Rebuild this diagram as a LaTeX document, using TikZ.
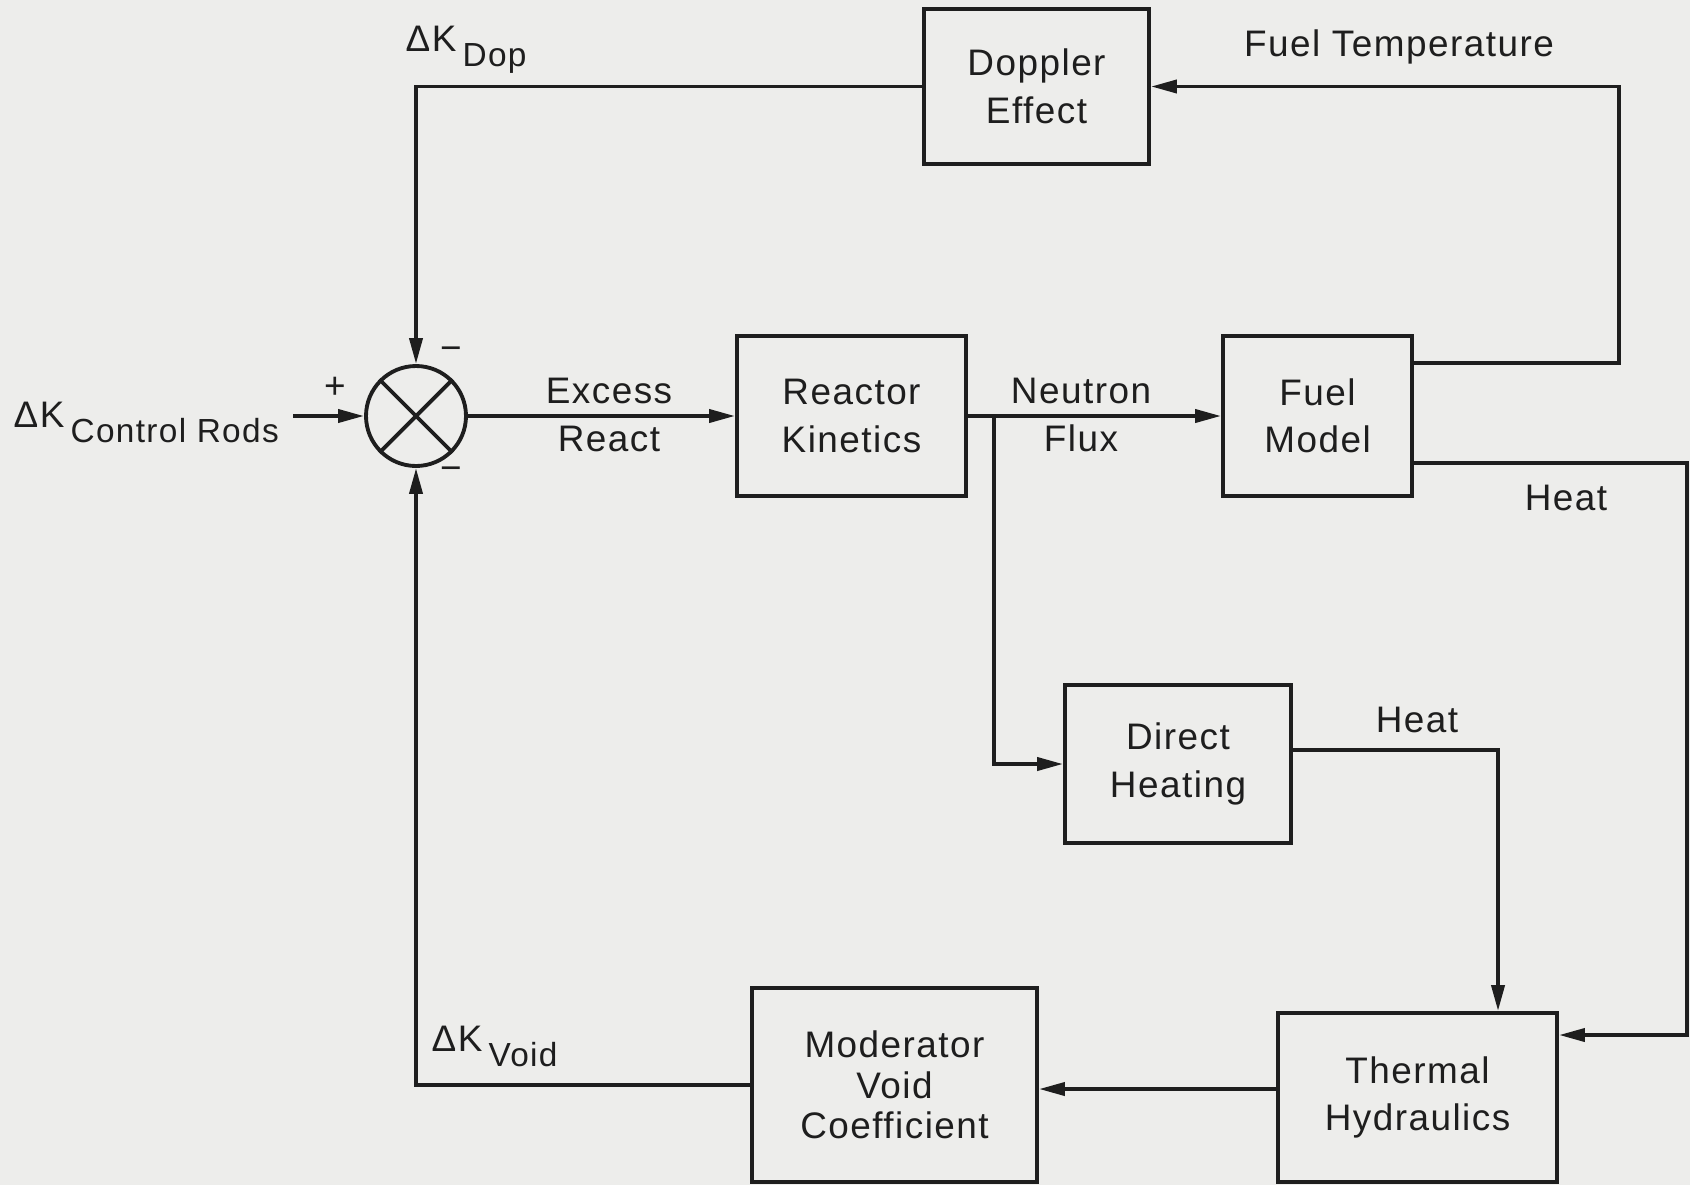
\documentclass[tikz,border=0pt]{standalone}
\usepackage{fontspec}
\setmainfont{Liberation Sans}[LetterSpace=4]
\usetikzlibrary{arrows.meta,positioning}
\definecolor{Ink}{HTML}{1E1E1E}
\definecolor{Paper}{HTML}{EDEDEB}
\newcommand{\dK}[1]{ΔK\,\raisebox{-0.8ex}{\fontsize{9.5}{11}\selectfont #1}}

\begin{document}
\begin{tikzpicture}[every node/.style={font=\fontsize{10.5}{13.5}\selectfont,align=center,text=Ink},
block/.style={draw=Ink,line width=1.1pt,inner sep=0pt},
flow/.style={draw=Ink,line width=1.1pt},
tag/.style={inner sep=0pt},
>={Triangle[length=2.6mm,width=1.3mm]}]
\fill[Paper] (0,0) rectangle (16.9,11.85);
\useasboundingbox (0,0) rectangle (16.9,11.85);
% blocks
\node[block,minimum width=22.5mm,minimum height=15.5mm] (doppler) at (10.365,10.985) {Doppler\\Effect};
\node[block,minimum width=22.9mm,minimum height=16mm] (kinetics) at (8.515,7.69) {Reactor\\Kinetics};
\node[block,minimum width=18.9mm,minimum height=16mm] (fuel) at (13.175,7.69) {Fuel\\Model};
\node[block,minimum width=22.6mm,minimum height=15.8mm] (direct) at (11.78,4.21) {Direct\\Heating};
\node[block,minimum width=27.9mm,minimum height=16.9mm] (thermal) at (14.175,0.875) {Thermal\\Hydraulics};
\node[block,minimum width=28.5mm,minimum height=19.4mm] (moderator) at (8.945,1.0) {Moderator\\[-2pt]Void\\[-2pt]Coefficient};
% summing junction
\node[block,circle,minimum size=10mm] (sum) at (4.16,7.69) {};
\draw[flow] (sum.45)--(sum.225) (sum.135)--(sum.315);
\node[tag] (plus) at (3.35,7.97) {+};
\node[tag] (minustop) at (4.51,8.31) {−};
\node[tag] (minusbot) at (4.51,7.11) {−};
% labels
\node[tag,anchor=base west] (dkdop) at (4.05,11.34) {\dK{Dop}};
\node[tag,anchor=base west] (dkrods) at (0.13,7.58) {\dK{Control Rods}};
\node[tag,anchor=base west] (dkvoid) at (4.31,1.34) {\dK{Void}};
\node (excess) at (6.09,7.70) {Excess\\React};
\node (flux) at (10.81,7.70) {Neutron\\Flux};
\node[tag,anchor=base] (fueltemp) at (13.99,11.29) {Fuel Temperature};
\node[tag,anchor=base] (heatfuel) at (15.66,6.75) {Heat};
\node[tag,anchor=base] (heatdirect) at (14.17,4.53) {Heat};
% connectors
\coordinate (rods) at (2.93,7.69);
\coordinate (split) at (9.94,7.69);
\coordinate (tw) at ([yshift=0.85mm]thermal.west);
\draw[flow,->] (rods) -- (sum.west);
\draw[flow,->] (sum.east) -- (kinetics.west);
\draw[flow,->] (kinetics.east) -- (fuel.west);
\draw[flow,->] (split) |- (direct.west);
\draw[flow,->] (doppler.west) -| (sum.north);
\draw[flow,->] ([yshift=5.3mm]fuel.east) -- ++(2.05,0) |- (doppler.east);
\draw[flow,->] ([yshift=-4.7mm]fuel.east) -- ++(2.73,0) |- ([yshift=6.25mm]thermal.east);
\draw[flow,->] ([yshift=1.4mm]direct.east) -| ([xshift=8.05mm]thermal.north);
\draw[flow,->] (tw) -- (tw -| moderator.east);
\draw[flow,->] (moderator.west) -| (sum.south);
\end{tikzpicture}
\end{document}
